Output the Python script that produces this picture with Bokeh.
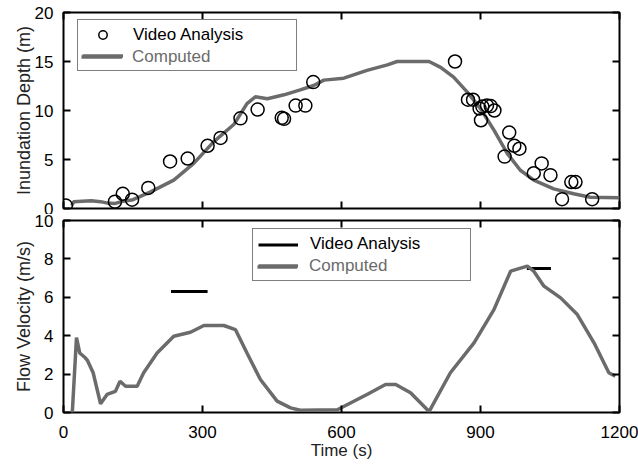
from bokeh.plotting import figure
from bokeh.models import Range1d, FixedTicker, LinearAxis, Legend, LegendItem
from bokeh.layouts import column
from bokeh.embed import file_html
from bokeh.resources import INLINE
from bokeh.core.properties import value

FONT = "Liberation Sans"
GRAY = "#6b6b6b"

# ---------------- data ----------------
time_ticks = [0, 300, 600, 900, 1200]
depth_ticks = [0, 5, 10, 15, 20]
vel_ticks = [0, 2, 4, 6, 8, 10]

# Inundation depth: video analysis (circles)
video_depth_t = [5, 111, 128, 148, 183, 230, 268, 311, 339, 382, 419, 471, 476, 501, 522, 539,
                 845, 873, 884, 898, 901, 904, 914, 922, 930, 952, 962, 973, 984, 1015, 1032,
                 1051, 1076, 1096, 1105, 1141]
video_depth = [0.3, 0.7, 1.5, 0.9, 2.1, 4.8, 5.1, 6.4, 7.2, 9.2, 10.1, 9.25, 9.15, 10.5, 10.5, 12.9,
               15.0, 11.1, 11.1, 10.2, 9.0, 10.4, 10.5, 10.45, 10.0, 5.3, 7.75, 6.4, 6.1, 3.6, 4.6,
               3.4, 0.95, 2.7, 2.7, 0.95]

# Inundation depth: computed
comp_depth_t = [18, 22, 40, 60, 80, 95, 110, 125, 150, 188, 238, 281, 324, 368, 396, 414, 440, 476,
                511, 540, 562, 605, 655, 699, 720, 789, 814, 842, 871, 900, 929, 958, 986, 1015,
                1058, 1101, 1137, 1200]
comp_depth = [0.3, 0.7, 0.75, 0.8, 0.7, 0.55, 0.5, 0.7, 0.9, 1.7, 2.9, 4.6, 6.8, 8.6, 10.7, 11.4,
              11.2, 11.6, 12.1, 12.55, 13.1, 13.3, 14.1, 14.66, 15.0, 15.0, 14.4, 13.4, 11.9, 10.2,
              8.0, 5.6, 3.9, 2.9, 2.0, 1.5, 1.15, 1.1]

# Flow velocity: video analysis (horizontal bars)
video_vel_t0 = [232, 1000]
video_vel_t1 = [311, 1052]
video_vel = [6.3, 7.5]

# Flow velocity: computed
comp_vel_t = [19, 28, 35, 47, 52, 64, 80, 94, 112, 122, 134, 159, 173, 202, 238, 274, 303, 346, 371,
              396, 425, 461, 490, 511, 591, 655, 695, 717, 749, 789, 835, 886, 929, 965, 1001, 1015,
              1037, 1073, 1109, 1145, 1177, 1191]
comp_vel = [0.0, 3.9, 3.1, 2.85, 2.7, 2.07, 0.45, 0.94, 1.1, 1.63, 1.37, 1.37, 2.07, 3.1, 3.97, 4.18,
            4.53, 4.53, 4.32, 3.1, 1.72, 0.59, 0.24, 0.12, 0.14, 0.94, 1.46, 1.46, 1.03, 0.05, 2.07,
            3.63, 5.36, 7.36, 7.62, 7.36, 6.58, 5.97, 5.1, 3.63, 2.07, 1.89]


def style_axis(ax, ticks, show_labels=True):
    ax.ticker = FixedTicker(ticks=ticks)
    ax.axis_line_color = None
    ax.major_tick_in = 7
    ax.major_tick_out = 0
    ax.major_tick_line_width = 2
    ax.major_tick_line_color = "black"
    ax.minor_tick_line_color = None
    ax.major_label_text_font = FONT
    ax.major_label_text_color = "black"
    if show_labels:
        ax.major_label_text_font_size = "17px"
        ax.major_label_standoff = 10
    else:
        ax.major_label_overrides = {t: "" for t in ticks}
        ax.major_label_text_font_size = "1px"
        ax.major_label_standoff = 0
    ax.axis_label_text_font = FONT
    ax.axis_label_text_font_style = "normal"
    ax.axis_label_text_color = "#222222"


def make_fig(yr, yticks, ylabel, frame_h, mb_top, mb_bottom, show_x_labels):
    p = figure(x_range=Range1d(0, 1200), y_range=Range1d(*yr),
               frame_width=556, frame_height=frame_h,
               min_border_left=63, min_border_right=19,
               min_border_top=mb_top, min_border_bottom=mb_bottom,
               output_backend="svg", toolbar_location=None)
    p.grid.visible = False
    p.outline_line_color = "black"
    p.outline_line_width = 2
    p.background_fill_color = "white"
    p.border_fill_color = "white"
    bottom_axis = p.below[0]
    left_axis = p.left[0]
    style_axis(bottom_axis, time_ticks, show_x_labels)
    style_axis(left_axis, yticks, True)
    left_axis.axis_label = ylabel
    left_axis.axis_label_text_font_size = "18px"
    left_axis.axis_label_standoff = -2
    ra = LinearAxis()
    style_axis(ra, yticks, False)
    p.add_layout(ra, "right")
    ta = LinearAxis()
    style_axis(ta, time_ticks, False)
    p.add_layout(ta, "above")
    return p, bottom_axis


def add_legend(p, r1, lab1, r2, loc, pad, gh, sp, gw, stand, lw):
    common = dict(location=loc, padding=pad, spacing=sp, label_height=gh, glyph_height=gh,
                  glyph_width=gw, label_standoff=stand, label_width=lw,
                  label_text_font=FONT, label_text_font_size="17px", margin=0)
    leg_a = Legend(items=[LegendItem(label=lab1, renderers=[r1]),
                          LegendItem(label=value(" "), renderers=[r2])],
                   border_line_color="black", border_line_width=1.5,
                   background_fill_color="white", background_fill_alpha=1.0,
                   label_text_color="black", **common)
    leg_b = Legend(items=[LegendItem(label="Computed", renderers=[r2])],
                   border_line_alpha=0, background_fill_alpha=0,
                   label_text_color=GRAY, **common)
    p.add_layout(leg_a)
    p.add_layout(leg_b)


# ---------------- top panel ----------------
p1, _ = make_fig((0, 20), depth_ticks, "Inundation Depth (m)", 196, 12, 6, False)
c_line1 = p1.line(comp_depth_t, comp_depth, line_color=GRAY, line_width=3.5)
c_pts = p1.scatter(video_depth_t, video_depth, marker="circle", size=13,
                   fill_color=None, line_color="black", line_width=1.5)
add_legend(p1, c_pts, "Video Analysis", c_line1, (14, 137), 4, 21, 0, 41, 10, 159)

# ---------------- bottom panel ----------------
p2, xb = make_fig((0, 10), vel_ticks, "Flow Velocity (m/s)", 192, 6, 58, True)
xb.axis_label = "Time (s)"
xb.axis_label_text_font_size = "17px"
xb.axis_label_standoff = 0
xb.major_label_standoff = 13
v_bars = p2.segment(x0=video_vel_t0, y0=video_vel, x1=video_vel_t1, y1=video_vel,
                    line_color="black", line_width=3)
c_line2 = p2.line(comp_vel_t, comp_vel, line_color=GRAY, line_width=3.5)
add_legend(p2, v_bars, "Video Analysis", c_line2, (189, 131), 5, 19, 2, 40, 12, 155)

layout = column(p1, p2, spacing=0)
open("out.html", "w").write(file_html(layout, INLINE))
